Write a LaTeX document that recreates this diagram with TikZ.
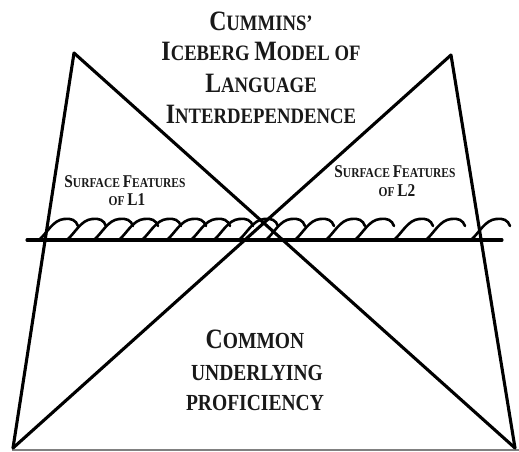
\documentclass[tikz,border=0pt]{standalone}
\usepackage{fontspec}
\setmainfont{Liberation Serif}[FakeStretch=0.85]
\newcommand\BigT[1]{{\fontsize{28}{28}\selectfont #1}}
\newcommand\BigS[1]{{\fontsize{18}{18}\selectfont #1}}
\tikzset{
  edge/.style={line width=3.1pt, line cap=round, line join=round},
  wave/.style={line width=2.6pt, line cap=round},
  ttl/.style={font=\bfseries\fontsize{22}{22}\selectfont, anchor=base, inner sep=0pt, text=black!90},
  btm/.style={font=\bfseries\fontsize{23}{23}\selectfont, anchor=base, inner sep=0pt, text=black!90},
  sfc/.style={font=\bfseries\fontsize{13.5}{14}\selectfont, anchor=base, inner sep=0pt, text=black!90},
}
\begin{document}
\begin{tikzpicture}[x=1pt,y=-1pt]
\useasboundingbox (0,0) rectangle (519,451);
\fill[white] (0,0) rectangle (519,451);
\coordinate (A1) at (74,53);
\coordinate (A2) at (451,55);
\coordinate (BL) at (13,448);
\coordinate (BR) at (515,448);
\coordinate (W1) at (27,240);
\coordinate (W2) at (502,240);
\coordinate (G1) at (12,450);
\coordinate (G2) at (519,450);
\draw[gray, line width=1.5pt] (G1) -- (G2);
\draw[edge] (A1) -- (BL);
\draw[edge] (A1) -- (BR);
\draw[edge] (A2) -- (BR);
\draw[edge] (A2) -- (BL);
\draw[edge] (W1) -- (W2);
\foreach \c in {65,93,120,145,168,193,217,240,265,292,321,352,381,420,452,497}
  \draw[wave] (\c-26,240) .. controls (\c-18,233) and (\c-12,220) .. (\c-1,219) .. controls (\c+6,218) and (\c+11,220) .. (\c+13,226);
\node[ttl] (t1) at (261,30) {\BigT{C}UMMINS’};
\node[ttl] (t2) at (261,60) {\BigT{I}CEBERG \BigT{M}ODEL OF};
\node[ttl] (t3) at (261,92) {\BigT{L}ANGUAGE};
\node[ttl] (t4) at (261,123) {\BigT{I}NTERDEPENDENCE};
\node[sfc] (s1) at (125,187) {\BigS{S}URFACE \BigS{F}EATURES};
\node[sfc] (s2) at (127,205) {OF \BigS{L1}};
\node[sfc] (r1) at (395,177) {\BigS{S}URFACE \BigS{F}EATURES};
\node[sfc] (r2) at (397,196) {OF \BigS{L2}};
\node[btm] (b1) at (255,348) {\BigT{C}OMMON};
\node[btm] (b2) at (257,380) {UNDERLYING};
\node[btm] (b3) at (255,410) {PROFICIENCY};
\end{tikzpicture}
\end{document}
